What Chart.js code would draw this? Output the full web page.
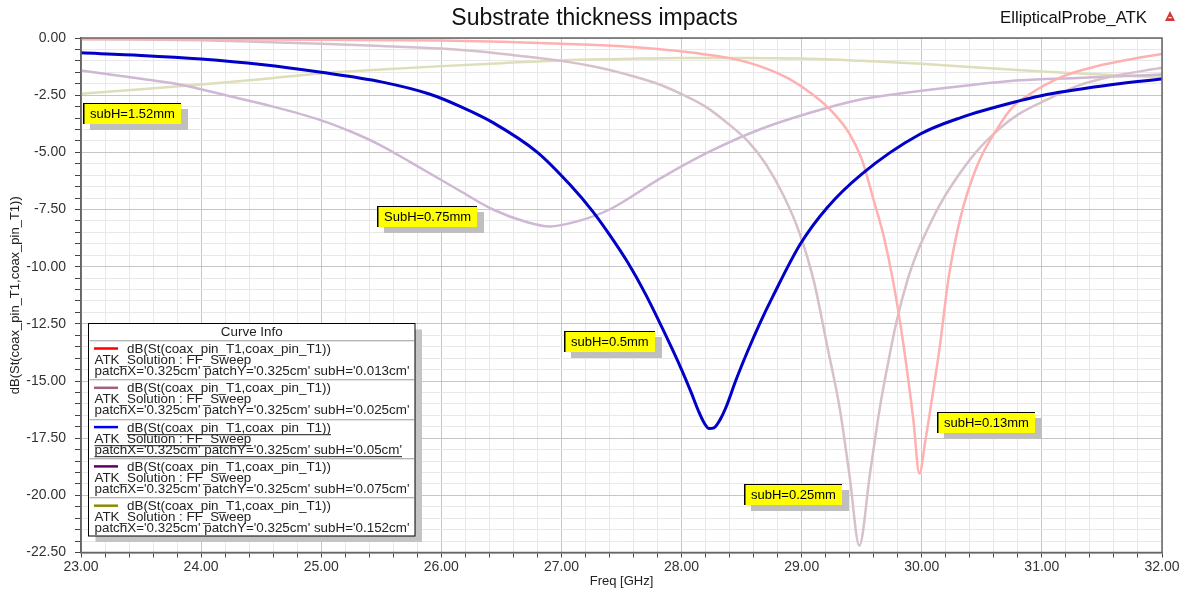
<!DOCTYPE html>
<html><head><meta charset="utf-8">
<script src="https://cdn.jsdelivr.net/npm/chart.js@4.4.1/dist/chart.umd.min.js"></script>
<style>html,body{margin:0;padding:0;background:#fff;}#wrap{width:1185px;height:592px;position:relative;}</style>
</head><body><div id="wrap"><canvas id="c" width="1185" height="592"></canvas></div>
<script>
// ---------- texts ----------
const chartTitle = 'Substrate thickness impacts';
const projectName = 'EllipticalProbe_ATK';
const xTitle = 'Freq [GHz]';
const yTitle = 'dB(St(coax_pin_T1,coax_pin_T1))';
const legendHeader = 'Curve Info';
const legendExpr = 'dB(St(coax_pin_T1,coax_pin_T1))';
const legendSolution = 'ATK_Solution : FF_Sweep';
const legendParams = [
  "patchX='0.325cm' patchY='0.325cm' subH='0.013cm'",
  "patchX='0.325cm' patchY='0.325cm' subH='0.025cm'",
  "patchX='0.325cm' patchY='0.325cm' subH='0.05cm'",
  "patchX='0.325cm' patchY='0.325cm' subH='0.075cm'",
  "patchX='0.325cm' patchY='0.325cm' subH='0.152cm'"
];
const annotationTexts = ['subH=1.52mm', 'SubH=0.75mm', 'subH=0.5mm', 'subH=0.13mm', 'subH=0.25mm'];
const annotationFreq = [23.02, 25.465, 27.02, 30.127, 28.52];
const annotationDb = [-2.86, -7.35, -12.81, -16.35, -19.5];

// ---------- axis ranges ----------
const xMin = 23, xMax = 32, xStep = 0.2, xMajor = 1;
const yMin = -22.5, yMax = 0, yStep = 0.5, yMajor = 2.5;

// ---------- series (freq GHz / dB) ----------
const f013 = [23.0, 24.0, 25.0, 26.0, 26.5, 27.0, 27.5, 27.8, 28.1, 28.4, 28.65, 28.9, 29.1, 29.25, 29.4, 29.5, 29.6, 29.68, 29.76, 29.85, 29.93, 29.98, 30.03, 30.09, 30.15, 30.22, 30.32, 30.46, 30.63, 30.76, 30.9, 31.18, 31.46, 31.73, 32.0];
const db013 = [-0.05, -0.06, -0.08, -0.11, -0.16, -0.25, -0.36, -0.48, -0.65, -0.88, -1.23, -1.8, -2.5, -3.2, -4.2, -5.3, -7.1, -8.6, -10.6, -13.5, -16.7, -19.05, -17.6, -15.6, -13.5, -10.6, -7.9, -5.6, -3.95, -3.0, -2.45, -1.67, -1.23, -0.94, -0.7];

const f025 = [23.0, 24.0, 24.5, 25.0, 25.5, 26.0, 26.3, 26.6, 27.0, 27.3, 27.55, 27.8, 28.0, 28.2, 28.4, 28.55, 28.7, 28.85, 28.98, 29.1, 29.21, 29.32, 29.4, 29.48, 29.57, 29.65, 29.72, 29.79, 29.88, 29.96, 30.04, 30.15, 30.26, 30.45, 30.65, 30.8, 31.04, 31.32, 31.59, 32.0];
const db025 = [-0.04, -0.1, -0.17, -0.25, -0.35, -0.46, -0.58, -0.75, -1.0, -1.28, -1.6, -2.0, -2.45, -3.0, -3.8, -4.5, -5.5, -6.9, -8.5, -10.6, -13.4, -16.3, -19.2, -22.2, -19.0, -16.2, -14.2, -12.4, -10.6, -9.4, -8.45, -7.3, -6.35, -5.0, -3.95, -3.35, -2.7, -2.05, -1.67, -1.3];

const f050 = [23.0, 23.5, 24.0, 24.5, 25.0, 25.5, 25.9, 26.16, 26.43, 26.8, 27.07, 27.26, 27.4, 27.55, 27.7, 27.85, 28.0, 28.08, 28.14, 28.19, 28.23, 28.27, 28.32, 28.37, 28.45, 28.55, 28.65, 28.76, 28.99, 29.21, 29.5, 29.98, 30.32, 30.82, 31.04, 31.59, 32.0];
const db050 = [-0.65, -0.76, -0.92, -1.16, -1.5, -1.92, -2.45, -3.0, -3.7, -5.0, -6.41, -7.58, -8.6, -9.8, -11.2, -12.8, -14.5, -15.5, -16.3, -16.85, -17.08, -17.05, -16.7, -16.15, -15.0, -13.7, -12.5, -11.3, -9.0, -7.43, -5.95, -4.22, -3.49, -2.74, -2.47, -2.03, -1.79];

const f075 = [23.0, 23.5, 23.82, 24.24, 24.6, 25.0, 25.25, 25.49, 25.76, 26.16, 26.43, 26.71, 26.9, 27.13, 27.4, 27.82, 28.24, 28.65, 29.07, 29.49, 29.76, 30.32, 30.82, 31.3, 31.59, 32.0];
const db075 = [-1.42, -1.78, -2.03, -2.55, -3.0, -3.6, -4.1, -4.68, -5.48, -6.7, -7.5, -8.05, -8.24, -8.02, -7.5, -6.15, -4.95, -4.0, -3.27, -2.69, -2.47, -2.11, -1.85, -1.75, -1.68, -1.6];

const f152 = [23.0, 23.5, 24.0, 24.5, 25.0, 25.5, 26.0, 26.5, 27.0, 27.5, 28.0, 28.5, 29.0, 29.5, 30.0, 30.5, 31.0, 31.5, 32.0];
const db152 = [-2.44, -2.24, -2.03, -1.8, -1.55, -1.38, -1.23, -1.1, -0.98, -0.92, -0.87, -0.87, -0.9, -1.0, -1.13, -1.3, -1.47, -1.6, -1.72];

// ---------- styles ----------
const FONT = "'Liberation Sans', Arial, sans-serif";
const curveColors = ['rgb(255,176,176)', 'rgb(214,192,204)', 'rgb(0,0,200)', 'rgb(206,184,212)', 'rgb(222,222,186)'];
const curveWidths = [2.5, 2.5, 3, 2.5, 2.5];
const legendColors = ['#ff0000', '#a0607e', '#0000ff', '#600060', '#8c8c00'];

const pts = (f, d) => f.map((x, i) => ({x: x, y: d[i]}));
const series = [[f013, db013], [f025, db025], [f050, db050], [f075, db075], [f152, db152]];
const drawOrder = [2, 3, 0, 4, 5];

const datasets = series.map((s, i) => ({
  label: legendParams[i],
  data: pts(s[0], s[1]),
  borderColor: curveColors[i],
  borderWidth: curveWidths[i],
  pointRadius: 0,
  fill: false,
  cubicInterpolationMode: 'monotone',
  order: drawOrder[i]
}));

const isMult = (v, m) => Math.abs(v / m - Math.round(v / m)) < 1e-6;

const decorPlugin = {
  id: 'decor',
  afterDatasetsDraw(chart) {
    const {ctx, chartArea: a, scales} = chart;
    ctx.save();
    // frame
    ctx.strokeStyle = '#666';
    ctx.lineWidth = 1.5;
    ctx.strokeRect(a.left, a.top, a.right - a.left, a.bottom - a.top);

    // annotations
    ctx.font = '13px ' + FONT;
    ctx.textBaseline = 'middle';
    ctx.textAlign = 'left';
    annotationTexts.forEach((t, i) => {
      const x = Math.round(scales.x.getPixelForValue(annotationFreq[i]));
      const y = Math.round(scales.y.getPixelForValue(annotationDb[i]));
      const w = Math.round(ctx.measureText(t).width + 13);
      const h = 21;
      ctx.fillStyle = '#bfbfbf';
      ctx.fillRect(x + 7, y + 6, w, h);
      ctx.fillStyle = '#ffff00';
      ctx.fillRect(x, y, w, h);
      ctx.strokeStyle = '#000';
      ctx.lineWidth = 1.5;
      ctx.beginPath(); ctx.moveTo(x + 0.75, y + h); ctx.lineTo(x + 0.75, y + 0.5); ctx.stroke();
      ctx.lineWidth = 1;
      ctx.beginPath(); ctx.moveTo(x, y + 0.5); ctx.lineTo(x + w, y + 0.5); ctx.stroke();
      ctx.fillStyle = '#000';
      ctx.fillText(t, x + 7, y + h / 2 + 1);
    });

    // legend box
    const bx = 88.5, by = 323.5, bw = 326.5, bh = 212.5;
    ctx.fillStyle = '#c4c4c4';
    ctx.fillRect(bx + 7, by + 6, bw, bh);
    ctx.fillStyle = '#fff';
    ctx.fillRect(bx, by, bw, bh);
    ctx.strokeStyle = '#000';
    ctx.lineWidth = 1;
    ctx.strokeRect(bx, by, bw, bh);
    ctx.font = '13.4px ' + FONT;
    ctx.fillStyle = '#222';
    ctx.textAlign = 'center';
    ctx.fillText(legendHeader, bx + bw / 2, by + 9);
    ctx.textAlign = 'left';
    for (let i = 0; i < legendParams.length; i++) {
      const top = 340 + i * 39.3;
      ctx.strokeStyle = '#b4b4b4';
      ctx.lineWidth = 1;
      ctx.beginPath(); ctx.moveTo(bx + 1, Math.round(top) + 0.5); ctx.lineTo(bx + bw - 1, Math.round(top) + 0.5); ctx.stroke();
      ctx.strokeStyle = '#e4e4e4';
      ctx.beginPath(); ctx.moveTo(bx + 1, Math.round(top) + 1.5); ctx.lineTo(bx + bw - 1, Math.round(top) + 1.5); ctx.stroke();
      ctx.strokeStyle = legendColors[i];
      ctx.lineWidth = 2.5;
      ctx.beginPath(); ctx.moveTo(94, top + 8.5); ctx.lineTo(118, top + 8.5); ctx.stroke();
      ctx.fillStyle = '#222';
      const lines = [[legendExpr, 127, top + 9.5], [legendSolution, 94.5, top + 20.5], [legendParams[i], 94.5, top + 31.5]];
      lines.forEach(l => {
        ctx.fillText(l[0], l[1], l[2]);
        if (i === 2) {
          const w = ctx.measureText(l[0]).width;
          ctx.strokeStyle = '#444';
          ctx.lineWidth = 1.2;
          ctx.beginPath(); ctx.moveTo(l[1], l[2] + 6.5); ctx.lineTo(l[1] + w, l[2] + 6.5); ctx.stroke();
        }
      });
    }
    ctx.restore();
  },
  afterDraw(chart) {
    const {ctx} = chart;
    ctx.save();
    ctx.fillStyle = '#111';
    ctx.textBaseline = 'alphabetic';
    ctx.textAlign = 'center';
    ctx.font = '23px ' + FONT;
    ctx.fillText(chartTitle, 594.5, 25);
    ctx.textAlign = 'left';
    ctx.font = '16.8px ' + FONT;
    ctx.fillText(projectName, 1000, 23);
    // small logo mark
    ctx.fillStyle = '#d23a3a';
    ctx.beginPath(); ctx.moveTo(1170, 11); ctx.lineTo(1165, 21); ctx.lineTo(1175, 21); ctx.closePath(); ctx.fill();
    ctx.fillStyle = '#fff';
    ctx.fillRect(1168.5, 17, 3, 1.2);
    ctx.restore();
  }
};

new Chart(document.getElementById('c'), {
  type: 'line',
  data: {datasets},
  options: {
    responsive: false,
    animation: false,
    devicePixelRatio: 1,
    layout: {padding: {left: 0, top: 38, right: 23, bottom: 0}},
    plugins: {legend: {display: false}, title: {display: false}, tooltip: {enabled: false}},
    scales: {
      x: {
        type: 'linear', min: xMin, max: xMax,
        afterFit: s => { s.height = 39.5; },
        ticks: {
          stepSize: xStep, autoSkip: false, maxRotation: 0, minRotation: 0, maxTicksLimit: 1000,
          padding: 1, color: '#333', font: {family: FONT, size: 14},
          callback: v => isMult(v, xMajor) ? Number(v).toFixed(2) : ''
        },
        grid: {
          color: c => isMult(c.tick.value, xMajor) ? '#c6c6c6' : '#e8e8e8',
          lineWidth: 1, tickColor: '#444', tickLength: 5, drawTicks: true
        },
        border: {color: '#666', width: 1.5},
        title: {display: true, text: xTitle, color: '#222', font: {family: FONT, size: 13}, padding: {top: 0, bottom: 3}}
      },
      y: {
        type: 'linear', min: yMin, max: yMax,
        afterFit: s => { s.width = 81; },
        ticks: {
          stepSize: yStep, autoSkip: false, maxTicksLimit: 1000,
          padding: 9, color: '#333', font: {family: FONT, size: 14},
          callback: v => isMult(v, yMajor) ? Number(v).toFixed(2) : ''
        },
        grid: {
          color: c => isMult(c.tick.value, yMajor) ? '#c6c6c6' : '#e8e8e8',
          lineWidth: 1, tickColor: '#444', tickLength: 6
        },
        border: {color: '#666', width: 1.5},
        title: {display: true, text: yTitle, color: '#222', font: {family: FONT, size: 13}, padding: {top: 8, bottom: 0}}
      }
    }
  },
  plugins: [decorPlugin]
});
</script>
</body></html>
